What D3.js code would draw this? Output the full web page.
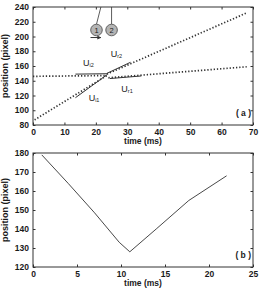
<!DOCTYPE html>
<html>
<head>
<meta charset="utf-8">
<script src="https://cdn.jsdelivr.net/npm/d3@7"></script>
<style>
  body { margin: 0; background: #fff; }
  svg { display: block; font-family: "Liberation Sans", Arial, sans-serif; }
</style>
</head>
<body>
<div id="chart"></div>
<script>
// Panel (a): dotted tracks (start / end)
const trackI1 = [[0.5, 87], [23.5, 147]];
const trackI2 = [[0, 146], [23.5, 147]];
const trackR1 = [[24, 144], [68, 159]];
const trackR2 = [[23.5, 149], [68, 232]];
// Panel (a): solid fitted segments
const fitI1 = [[13.5, 117], [23.5, 148]];
const fitI2 = [[13.5, 149], [23.5, 149.5]];
const fitR1 = [[24.5, 143], [34.5, 146.5]];
const fitR2 = [[23.5, 150], [31, 165]];
// Velocity labels: [t, position, main, subscript]
const labelsA = [
  [15.9, 160.3, 'U', 'i2'],
  [24.7, 172.5, 'U', 'r2'],
  [17.7, 112.8, 'U', 'i1'],
  [28.1, 125, 'U', 'r1']
];
const ticksA_x = [0, 10, 20, 30, 40, 50, 60, 70];
const ticksA_y = [80, 100, 120, 140, 160, 180, 200, 220, 240];

// Panel (b): single track
const timeB = [1, 4, 7, 9.8, 11, 14, 17.7, 22];
const posB = [179, 164, 148.5, 133, 128, 140, 155, 168];
const ticksB_x = [0, 5, 10, 15, 20, 25];
const ticksB_y = [120, 130, 140, 150, 160, 170, 180];

const W = 259, H = 292;
const svg = d3.select('#chart').append('svg')
  .attr('width', W).attr('height', H);

const ink = '#333';
const txt = '#1a1a1a';

function panel(top, bottom, xDom, yDom, xt, yt, tag) {
  const x = d3.scaleLinear().domain(xDom).range([33, 253]);
  const y = d3.scaleLinear().domain(yDom).range([bottom, top]);
  const g = svg.append('g');

  const fmt = d3.format('d');
  const axes = [
    [d3.axisBottom(x).tickValues(xt).tickFormat(fmt).tickPadding(3.5), bottom, 0],
    [d3.axisTop(x).tickValues(xt).tickFormat(''), top, 0],
    [d3.axisLeft(y).tickValues(yt).tickFormat(fmt).tickPadding(4), 0, 33],
    [d3.axisRight(y).tickValues(yt).tickFormat(''), 0, 253]
  ];
  axes.forEach(([ax, ty, tx]) => {
    const a = g.append('g')
      .attr('transform', `translate(${tx},${ty})`)
      .call(ax.tickSizeInner(-2.5).tickSizeOuter(0));
    a.select('.domain').remove();
    a.selectAll('line').attr('stroke', ink);
    a.selectAll('text')
      .attr('fill', txt)
      .style('font-size', '8.5px')
      .style('font-weight', 'bold');
  });

  g.append('rect')
    .attr('x', 33).attr('y', top)
    .attr('width', 220).attr('height', bottom - top)
    .attr('fill', 'none').attr('stroke', ink).attr('stroke-width', 1);

  g.append('text')
    .attr('transform', `translate(8,${(top + bottom) / 2}) rotate(-90)`)
    .attr('text-anchor', 'middle')
    .style('font-size', '9px').style('font-weight', 'bold').attr('fill', txt)
    .text('position (pixel)');

  g.append('text')
    .attr('x', 143).attr('y', bottom + 19)
    .attr('text-anchor', 'middle')
    .style('font-size', '8.5px').style('font-weight', 'bold').attr('fill', txt)
    .text('time (ms)');

  g.append('text')
    .attr('x', 251).attr('y', bottom - 9)
    .attr('text-anchor', 'end')
    .style('font-size', '8.5px').style('font-weight', 'bold').attr('fill', txt)
    .attr('xml:space', 'preserve')
    .text(`( ${tag} )`);

  return { g, x, y };
}

// ---- panel (a)
const A = panel(7, 125, [0, 70], [80, 240], ticksA_x, ticksA_y, 'a');
const lineA = d3.line().x(d => A.x(d[0])).y(d => A.y(d[1]));

[trackI1, trackI2, trackR1, trackR2].forEach(tr => {
  A.g.append('path')
    .attr('d', lineA(tr))
    .attr('fill', 'none').attr('stroke', ink)
    .attr('stroke-width', 1.7)
    .attr('stroke-dasharray', '1.3 1.9');
});
[fitI1, fitI2, fitR1, fitR2].forEach(f => {
  A.g.append('path')
    .attr('d', lineA(f))
    .attr('fill', 'none').attr('stroke', ink)
    .attr('stroke-width', 1);
});

labelsA.forEach(([t, p, m, s]) => {
  const tx = A.g.append('text')
    .attr('x', A.x(t)).attr('y', A.y(p))
    .style('font-size', '9px');
  tx.append('tspan').attr('fill', txt).text(m);
  tx.append('tspan').attr('fill', txt).attr('dy', 1.5)
    .style('font-size', '5.5px').text(s);
});

// pendulum sketch
const balls = [[20.2, 208.8, '1', 21.6], [25, 208.8, '2', 25]];
balls.forEach(([t, p, n, topT]) => {
  A.g.append('line')
    .attr('x1', A.x(t)).attr('y1', A.y(p) - 5.8)
    .attr('x2', A.x(topT)).attr('y2', A.y(240))
    .attr('stroke', ink).attr('stroke-width', 0.8);
  A.g.append('circle')
    .attr('cx', A.x(t)).attr('cy', A.y(p)).attr('r', 5.8)
    .attr('fill', '#b4b4b4').attr('stroke', '#444').attr('stroke-width', 0.8);
  A.g.append('text')
    .attr('x', A.x(t)).attr('y', A.y(p) + 2.6)
    .attr('text-anchor', 'middle')
    .style('font-size', '7.5px').attr('fill', txt)
    .text(n);
});
svg.append('defs').append('marker')
  .attr('id', 'arr').attr('viewBox', '0 0 10 10')
  .attr('refX', 9).attr('refY', 5)
  .attr('markerWidth', 4).attr('markerHeight', 4)
  .attr('orient', 'auto')
  .append('path').attr('d', 'M0,0L10,5L0,10z').attr('fill', ink);
A.g.append('line')
  .attr('x1', A.x(18.3)).attr('y1', A.y(198.6))
  .attr('x2', A.x(21.6)).attr('y2', A.y(198.6))
  .attr('stroke', ink).attr('stroke-width', 1)
  .attr('marker-end', 'url(#arr)');

// ---- panel (b)
const B = panel(153, 267, [0, 25], [120, 180], ticksB_x, ticksB_y, 'b');
B.g.append('path')
  .datum(timeB.map((t, i) => [t, posB[i]]))
  .attr('d', d3.line().x(d => B.x(d[0])).y(d => B.y(d[1])))
  .attr('fill', 'none').attr('stroke', ink).attr('stroke-width', 0.9);
</script>
</body>
</html>
